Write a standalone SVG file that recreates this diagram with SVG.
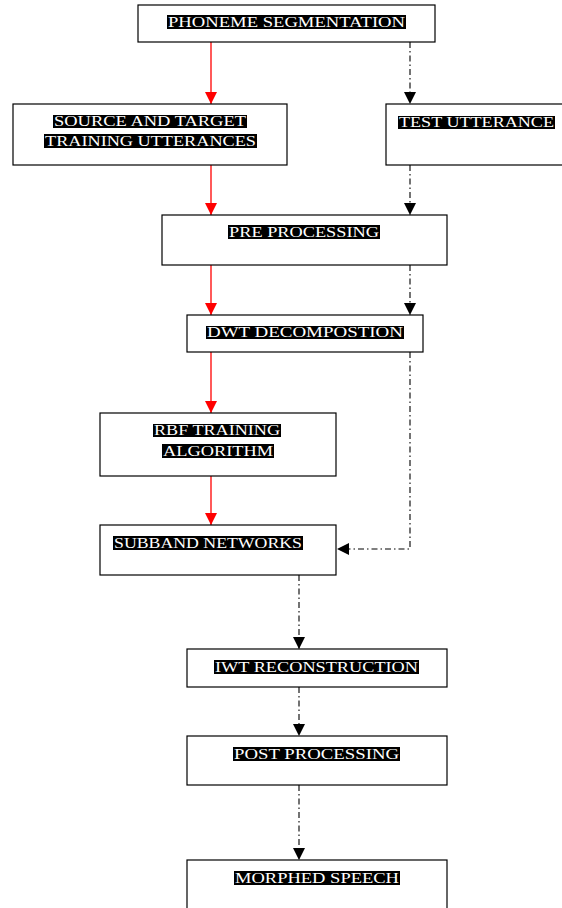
<svg xmlns="http://www.w3.org/2000/svg" width="562" height="908" viewBox="0 0 562 908">
<style>
.box{fill:#fff;stroke:#000;stroke-width:1.2}
.hl{fill:#000}
.t{font-family:"Liberation Serif","Times New Roman",serif;font-size:15px;fill:#fff}
.red{stroke:#f00;stroke-width:1.3;fill:none}
.dd{stroke:#000;stroke-width:1.1;fill:none;stroke-dasharray:6 3 1.5 3}
</style>
<defs>
<marker id="ar" viewBox="0 0 12 12" refX="12" refY="6" markerWidth="12" markerHeight="12" markerUnits="userSpaceOnUse" orient="auto"><path d="M0,0 L12,6 L0,12 Z" fill="#f00"/></marker>
<marker id="ab" viewBox="0 0 12 12" refX="12" refY="6" markerWidth="12" markerHeight="12" markerUnits="userSpaceOnUse" orient="auto"><path d="M0,0 L12,6 L0,12 Z" fill="#000"/></marker>
</defs>
<g id="connectors">
<path class="red" d="M211,42 V104" marker-end="url(#ar)"/>
<path class="red" d="M211,165 V215" marker-end="url(#ar)"/>
<path class="red" d="M211,265 V315" marker-end="url(#ar)"/>
<path class="red" d="M211,352 V413" marker-end="url(#ar)"/>
<path class="red" d="M211,476 V525" marker-end="url(#ar)"/>
<path class="dd" d="M410,42 V104" marker-end="url(#ab)"/>
<path class="dd" d="M410,165 V215" marker-end="url(#ab)"/>
<path class="dd" d="M410,265 V315" marker-end="url(#ab)"/>
<path class="dd" d="M410,352 V549 H337" marker-end="url(#ab)"/>
<path class="dd" d="M299,575 V649" marker-end="url(#ab)"/>
<path class="dd" d="M299,687 V736" marker-end="url(#ab)"/>
<path class="dd" d="M299,785 V860" marker-end="url(#ab)"/>
</g>
<g id="phoneme">
<rect class="box" x="138" y="5" width="297" height="37"/>
<rect class="hl" x="167" y="15" width="239" height="14"/>
<text class="t" x="168" y="27" textLength="237" lengthAdjust="spacingAndGlyphs">PHONEME SEGMENTATION</text>
</g>
<g id="source">
<rect class="box" x="13" y="104" width="274" height="61"/>
<rect class="hl" x="53" y="115" width="194" height="13"/>
<text class="t" x="54" y="126" textLength="192" lengthAdjust="spacingAndGlyphs">SOURCE AND TARGET</text>
<rect class="hl" x="44" y="134" width="213" height="14"/>
<text class="t" x="45" y="146" textLength="211" lengthAdjust="spacingAndGlyphs">TRAINING UTTERANCES</text>
</g>
<g id="test">
<rect class="box" x="386" y="104" width="190" height="61"/>
<rect class="hl" x="398" y="116" width="157" height="13"/>
<text class="t" x="399" y="127" textLength="155" lengthAdjust="spacingAndGlyphs">TEST UTTERANCE</text>
</g>
<g id="preprocessing">
<rect class="box" x="162" y="215" width="285" height="50"/>
<rect class="hl" x="228" y="225" width="152" height="14"/>
<text class="t" x="229" y="237" textLength="150" lengthAdjust="spacingAndGlyphs">PRE PROCESSING</text>
</g>
<g id="dwt">
<rect class="box" x="187" y="315" width="236" height="37"/>
<rect class="hl" x="206" y="326" width="198" height="13"/>
<text class="t" x="207" y="337" textLength="196" lengthAdjust="spacingAndGlyphs">DWT DECOMPOSTION</text>
</g>
<g id="rbf">
<rect class="box" x="100" y="413" width="236" height="63"/>
<rect class="hl" x="153" y="424" width="128" height="13"/>
<text class="t" x="154" y="435" textLength="126" lengthAdjust="spacingAndGlyphs">RBF TRAINING</text>
<rect class="hl" x="162" y="444" width="112" height="14"/>
<text class="t" x="163" y="456" textLength="110" lengthAdjust="spacingAndGlyphs">ALGORITHM</text>
</g>
<g id="subband">
<rect class="box" x="100" y="525" width="236" height="50"/>
<rect class="hl" x="113" y="536" width="190" height="14"/>
<text class="t" x="114" y="548" textLength="188" lengthAdjust="spacingAndGlyphs">SUBBAND NETWORKS</text>
</g>
<g id="iwt">
<rect class="box" x="187" y="649" width="260" height="38"/>
<rect class="hl" x="214" y="660" width="205" height="14"/>
<text class="t" x="215" y="672" textLength="203" lengthAdjust="spacingAndGlyphs">IWT RECONSTRUCTION</text>
</g>
<g id="postprocessing">
<rect class="box" x="187" y="736" width="260" height="49"/>
<rect class="hl" x="233" y="747" width="167" height="14"/>
<text class="t" x="234" y="759" textLength="165" lengthAdjust="spacingAndGlyphs">POST PROCESSING</text>
</g>
<g id="morphed">
<rect class="box" x="187" y="860" width="260" height="60"/>
<rect class="hl" x="234" y="871" width="166" height="14"/>
<text class="t" x="235" y="883" textLength="164" lengthAdjust="spacingAndGlyphs">MORPHED SPEECH</text>
</g>
</svg>
